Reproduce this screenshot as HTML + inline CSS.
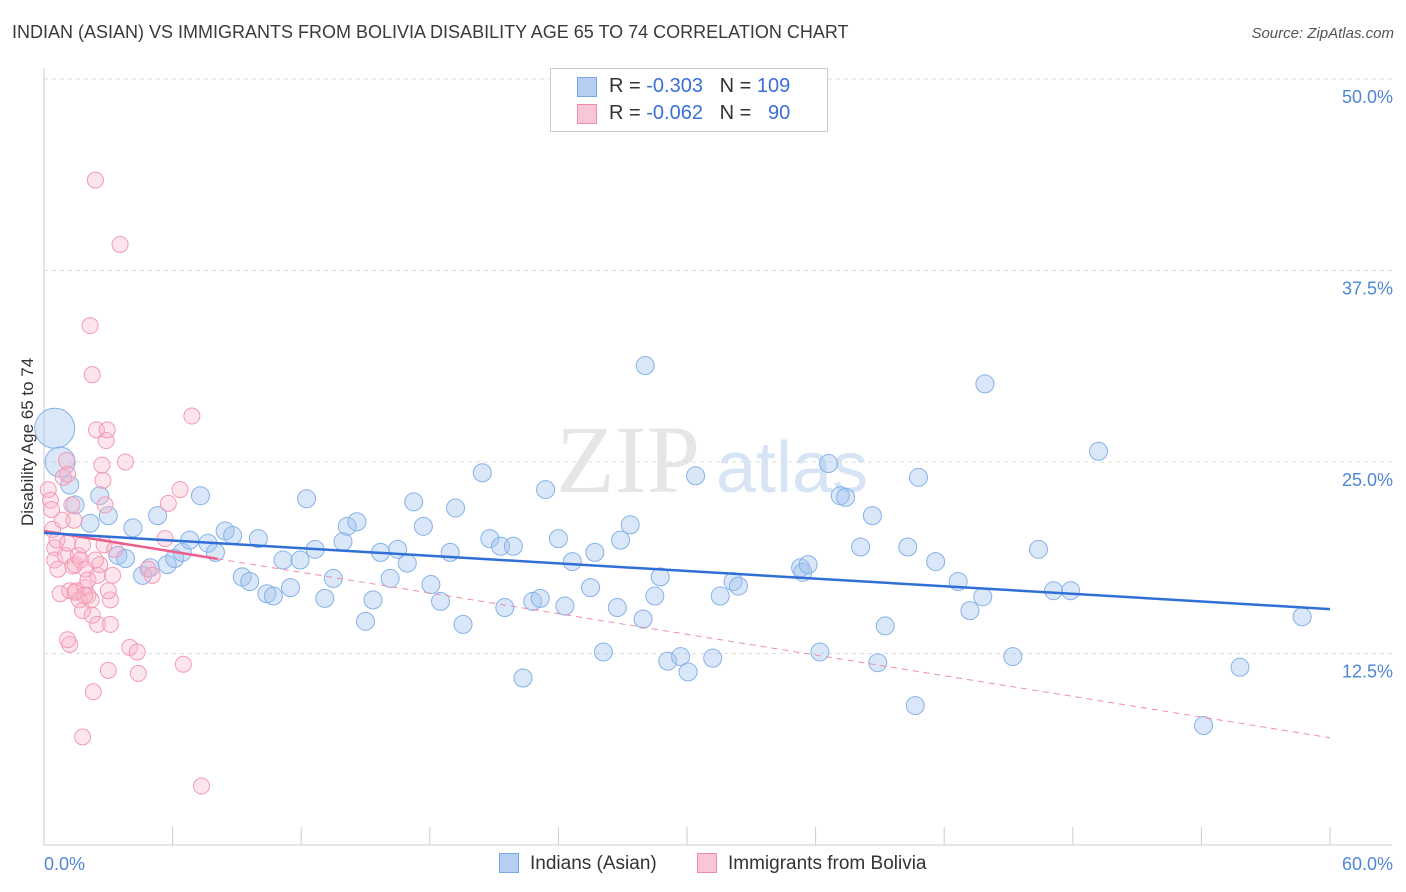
<!DOCTYPE html>
<html><head><meta charset="utf-8">
<style>
body{margin:0;background:#fff;font-family:"Liberation Sans",sans-serif;}
#wrap{position:relative;width:1406px;height:892px;overflow:hidden;}
.t{position:absolute;white-space:nowrap;}
</style></head>
<body>
<div id="wrap">
<div class="t" style="left:12px;top:22px;font-size:18px;color:#3a3a3a;">INDIAN (ASIAN) VS IMMIGRANTS FROM BOLIVIA DISABILITY AGE 65 TO 74 CORRELATION CHART</div>
<div class="t" style="right:12px;top:25px;font-size:15px;color:#555;font-style:italic;">Source: ZipAtlas.com</div>
<div class="t" style="left:-42px;top:446px;font-size:17px;color:#333;transform:rotate(-90deg);transform-origin:center;width:140px;text-align:center;">Disability Age 65 to 74</div>
<svg id="svg" width="1406" height="892" style="position:absolute;left:0;top:0"></svg>
<div style="position:absolute;left:550px;top:68px;width:276px;height:62px;border:1px solid #ccc;background:#fff;">
  <div style="position:absolute;left:26px;top:8px;width:18px;height:18px;background:#b5cff2;border:1px solid #7aaae6;"></div>
  <div class="t" style="left:58px;top:6px;font-size:20px;color:#333;">R = <span style="color:#3a6fd8">-0.303</span>&nbsp;&nbsp;&nbsp;N = <span style="color:#3a6fd8">109</span></div>
  <div style="position:absolute;left:26px;top:35px;width:18px;height:18px;background:#f9c6d5;border:1px solid #f08cab;"></div>
  <div class="t" style="left:58px;top:33px;font-size:20px;color:#333;">R = <span style="color:#3a6fd8">-0.062</span>&nbsp;&nbsp;&nbsp;N = &nbsp;&nbsp;<span style="color:#3a6fd8">90</span></div>
</div>
<div style="position:absolute;left:499px;top:853px;width:18px;height:18px;background:#b5cff2;border:1px solid #7aaae6;"></div>
<div class="t" style="left:530px;top:853px;font-size:19px;color:#333;">Indians (Asian)</div>
<div style="position:absolute;left:697px;top:853px;width:18px;height:18px;background:#f9c6d5;border:1px solid #f08cab;"></div>
<div class="t" style="left:728px;top:853px;font-size:19px;color:#333;">Immigrants from Bolivia</div>
</div>
<script>
const yTicks=[12.5,25,37.5,50];
const yTickLabels=["12.5%","25.0%","37.5%","50.0%"];
const xTickLabels=["0.0%","60.0%"];
const blueX=[0.5,0.75,1.2,1.45,2.15,2.6,3.0,3.45,3.8,4.15,4.6,4.95,5.3,5.75,6.1,6.45,6.8,7.3,7.65,8.0,8.45,8.8,9.25,9.6,10.0,10.4,10.7,11.15,11.5,11.95,12.25,12.65,13.1,13.5,13.95,14.15,14.6,15.0,15.35,15.7,16.15,16.5,16.95,17.25,17.7,18.05,18.5,18.95,19.2,19.55,20.45,20.8,21.3,21.5,21.9,22.35,22.8,23.15,23.4,24.0,24.3,24.65,25.5,25.7,26.1,26.75,26.9,27.35,27.95,28.05,28.5,28.75,29.1,29.7,30.05,30.4,31.2,31.55,32.15,32.4,35.3,35.4,35.65,36.2,36.6,37.15,37.4,38.1,38.65,38.9,39.25,40.3,40.65,40.8,41.6,42.65,43.2,43.8,43.9,45.2,46.4,47.1,47.9,49.2,54.1,55.8,58.7];
const blueY=[27.2,25.0,23.5,22.2,21.0,22.8,21.5,18.9,18.7,20.7,17.6,18.1,21.5,18.3,18.7,19.1,19.9,22.8,19.7,19.1,20.5,20.2,17.5,17.2,20.0,16.4,16.25,18.6,16.8,18.6,22.6,19.3,16.1,17.4,19.8,20.8,21.1,14.6,16.0,19.1,17.4,19.3,18.4,22.4,20.8,17.0,15.9,19.1,22.0,14.4,24.3,20.0,19.5,15.5,19.5,10.9,15.9,16.1,23.2,20.0,15.6,18.5,16.8,19.1,12.6,15.5,19.9,20.9,14.75,31.3,16.25,17.5,12.0,12.3,11.3,24.1,12.2,16.25,17.2,16.9,18.1,17.8,18.3,12.6,24.9,22.8,22.7,19.45,21.5,11.9,14.3,19.45,9.1,24.0,18.5,17.2,15.3,16.2,30.1,12.3,19.3,16.6,16.6,25.7,7.8,11.6,14.9];
const blueWeight=[5,3];
const pinkX=[0.2,0.3,0.35,0.4,0.5,0.5,0.6,0.65,0.75,0.85,0.9,1.0,1.05,1.1,1.1,1.2,1.3,1.35,1.4,1.45,1.5,1.6,1.65,1.7,1.8,1.8,1.9,1.95,2.05,2.05,2.15,2.2,2.25,2.25,2.3,2.4,2.45,2.5,2.5,2.6,2.7,2.75,2.8,2.85,2.9,2.95,3.0,3.1,3.1,3.2,3.3,3.55,3.8,4.0,4.35,4.4,4.85,5.05,5.65,5.8,6.35,6.5,6.9,7.35,1.2,1.1,1.8,1.45,1.9,2.4,3.0];
const pinkY=[23.2,22.5,21.9,20.6,19.4,18.6,19.9,18.0,16.4,21.2,24.0,18.9,25.1,24.2,19.7,16.6,22.2,18.2,21.2,18.3,16.6,18.9,16.0,18.6,15.3,19.6,16.8,18.0,16.3,17.3,33.9,16.0,30.7,15.0,10.0,43.4,27.1,14.4,17.6,18.3,24.8,23.8,19.6,22.2,26.4,27.1,11.4,16.0,14.4,17.6,19.3,39.2,25.0,12.9,12.6,11.2,18.0,17.6,20.0,22.3,23.2,11.8,28.0,3.85,13.1,13.4,7.05,16.5,16.3,18.6,16.6];
const blueTrend=[20.37,15.4];
const pinkTrend=[20.5,7.0];
const pinkSolidEnd=8.1;

const X0=44,X1=1330,Y0=845,YTOP=79;
const sx=v=>X0+(v/60)*(X1-X0);
const sy=v=>Y0-(v/50)*(Y0-YTOP);
const svg=document.getElementById('svg');
const NS='http://www.w3.org/2000/svg';
function mk(tag,attrs,name){const e=document.createElementNS(NS,tag);for(const k in attrs)e.setAttribute(k,attrs[k]);


svg.appendChild(e);return e;}
const wm=mk('text',{x:556,y:492,'font-size':96,fill:'#e6e6e6','font-family':'Liberation Serif, serif'},'watermark');wm.textContent='ZIP';
const wm2=mk('text',{x:716,y:492,'font-size':72,fill:'#d6e4f5','font-family':'Liberation Sans, sans-serif'},'watermark-atlas');wm2.textContent='atlas';
yTicks.forEach((t,i)=>{const y=sy(t);
mk('line',{x1:X0,x2:1392,y1:y,y2:y,stroke:'#ddd','stroke-dasharray':'4,4'},'gridline');
const tx=mk('text',{x:1393,y:y+24,'text-anchor':'end','font-size':18,fill:'#4f86d6'},'y-tick-label');tx.textContent=yTickLabels[i];});
mk('line',{x1:X0,x2:X0,y1:68,y2:Y0,stroke:'#ccc'},'y-axis');
mk('line',{x1:X0,x2:1392,y1:Y0,y2:Y0,stroke:'#ccc'},'x-axis');
for(let i=0;i<=10;i++){const x=sx(i*6);mk('line',{x1:x,x2:x,y1:Y0-18,y2:Y0,stroke:'#ccc'},'x-tick');}
let t1=mk('text',{x:44,y:870,'font-size':18,fill:'#4f86d6'},'x-tick-label');t1.textContent=xTickLabels[0];
let t2=mk('text',{x:1393,y:870,'font-size':18,fill:'#4f86d6','text-anchor':'end'},'x-tick-label');t2.textContent=xTickLabels[1];
blueX.forEach((v,i)=>{const w=blueWeight[i]||1;const r=w>=5?20:w>=3?15:9;
mk('circle',{cx:sx(v),cy:sy(blueY[i]),r:r,fill:'rgba(160,196,240,0.4)',stroke:'#86b2e8','stroke-width':1},'point-indians');});
pinkX.forEach((v,i)=>{mk('circle',{cx:sx(v),cy:sy(pinkY[i]),r:8,fill:'rgba(248,180,200,0.35)',stroke:'#f29bb6','stroke-width':1},'point-bolivia');});
const py=x=>pinkTrend[0]+(pinkTrend[1]-pinkTrend[0])*x/60;
mk('line',{x1:sx(pinkSolidEnd),y1:sy(py(pinkSolidEnd)),x2:sx(60),y2:sy(pinkTrend[1]),stroke:'#f08cab','stroke-dasharray':'6,5','stroke-width':1},'trend-bolivia-dashed');
mk('line',{x1:sx(0),y1:sy(pinkTrend[0]),x2:sx(pinkSolidEnd),y2:sy(py(pinkSolidEnd)),stroke:'#ec5f8d','stroke-width':2.5},'trend-bolivia');
mk('line',{x1:sx(0),y1:sy(blueTrend[0]),x2:sx(60),y2:sy(blueTrend[1]),stroke:'#2f6fd6','stroke-width':2.5},'trend-indians');
</script>
</body></html>
